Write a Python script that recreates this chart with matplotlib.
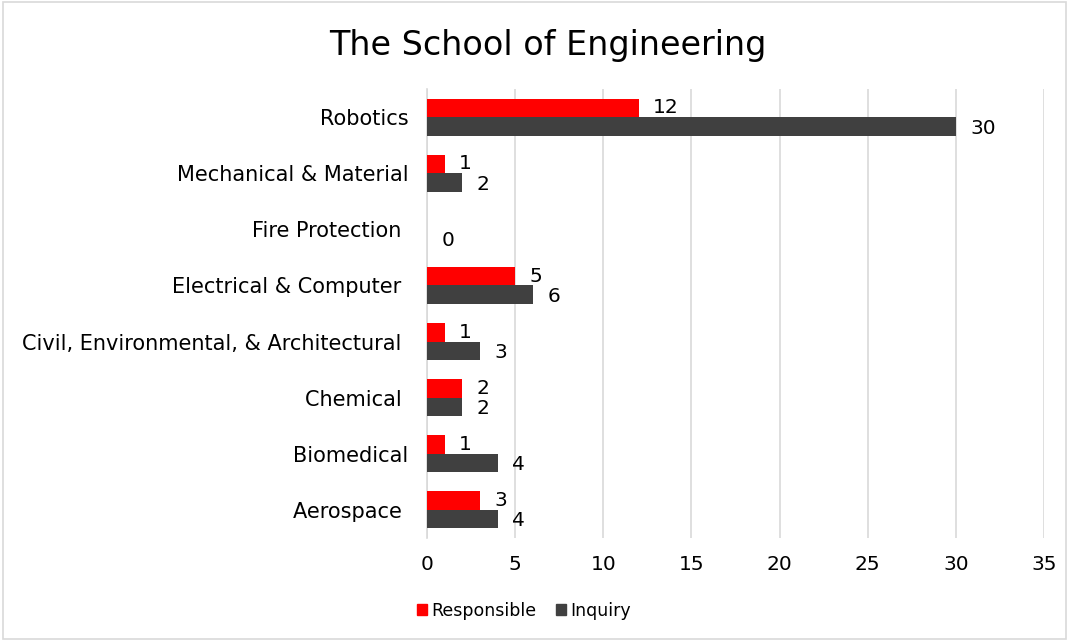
import matplotlib.pyplot as plt
import matplotlib.patches as mpatches
import numpy as np

# Data (top to bottom as shown)
categories = ['Robotics', 'Mechanical & Material', 'Fire Protection ',
              'Electrical & Computer ', 'Civil, Environmental, & Architectural ',
              'Chemical ', 'Biomedical', 'Aerospace ']
responsible = [12, 1, None, 5, 1, 2, 1, 3]
inquiry = [30, 2, 0, 6, 3, 2, 4, 4]
x_ticks = [0, 5, 10, 15, 20, 25, 30, 35]

RED = '#ff0000'
DARK = '#404040'

plt.rcParams['font.family'] = ['DejaVu Sans']
FS = 14.5

fig = plt.figure(figsize=(10.69, 6.41), dpi=100)
ax = fig.add_axes([427 / 1069, 1 - 538 / 641, (1044 - 427) / 1069, (538 - 89) / 641])

n = len(categories)
y = np.arange(n)[::-1]
h = 0.33

resp_vals = [np.nan if v is None else v for v in responsible]
ax.barh(y + h / 2, resp_vals, height=h, color=RED, zorder=3)
ax.barh(y - h / 2, inquiry, height=h, color=DARK, zorder=3)

for yi, r, q in zip(y, responsible, inquiry):
    if r is not None:
        ax.annotate(str(r), (r, yi + h / 2), xytext=(10.5, 0), textcoords='offset points',
                    va='center', ha='left', fontsize=FS, color='black')
    ax.annotate(str(q), (q, yi - h / 2 - 0.03), xytext=(10.5, 0), textcoords='offset points',
                va='center', ha='left', fontsize=FS, color='black')

ax.set_xlim(0, 35)
ax.set_ylim(-0.5, n - 0.5)
ax.set_xticks(x_ticks)
ax.set_xticklabels([str(t) for t in x_ticks], fontsize=FS, color='black')
ax.set_yticks(y)
ax.set_yticklabels(categories, fontsize=15, color='black')
ax.tick_params(axis='x', length=0, pad=12)
ax.tick_params(axis='y', length=0, pad=13.5)
ax.grid(axis='x', color='#d9d9d9', linewidth=1.2, zorder=0)
for side in ['top', 'right', 'bottom']:
    ax.spines[side].set_visible(False)
ax.spines['left'].set_color('#d9d9d9')
ax.spines['left'].set_linewidth(1.2)

fig.text(548 / 1069, 1 - 45 / 641, 'The School of Engineering', ha='center', va='center',
         fontsize=24, color='black')

handles = [mpatches.Patch(color=RED, label='Responsible'),
           mpatches.Patch(color=DARK, label='Inquiry')]
fig.legend(handles=handles, loc='center left', bbox_to_anchor=(401 / 1069, 1 - 611 / 641),
           ncol=2, frameon=False, fontsize=12.5, handlelength=0.6, handleheight=0.6,
           handletextpad=0.25, columnspacing=1.1)

# chart border
fig.add_artist(mpatches.Rectangle((0.003, 0.003), 0.994, 0.994, transform=fig.transFigure,
                                  fill=False, edgecolor='#d9d9d9', linewidth=1.2))

fig.savefig('out.png', dpi=100, facecolor='white')
